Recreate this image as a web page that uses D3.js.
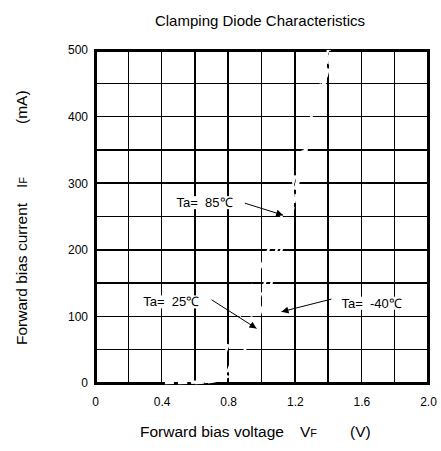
<!DOCTYPE html>
<html lang="en">
<head>
<meta charset="UTF-8">
<title>Clamping Diode Characteristics</title>
<script src="https://d3js.org/d3.v7.min.js"></script>
<style>
  body { margin: 0; background: #fff; }
  svg text { font-family: "Liberation Sans", Arial, sans-serif; fill: #000; }
</style>
</head>
<body>
<svg id="chart" width="441" height="451"></svg>
<script>
// data (forward voltage V, forward current mA)
var xTicks = [0, 0.4, 0.8, 1.2, 1.6, 2.0];
var yTicks = [0, 100, 200, 300, 400, 500];
var xGrid = [0.2, 0.4, 0.6, 0.8, 1.0, 1.2, 1.4, 1.6, 1.8];
var yGrid = [50, 100, 150, 200, 250, 300, 350, 400, 450];

var curve85 = [[0.42, 0], [0.55, 1], [0.65, 3], [0.72, 8], [0.76, 25], [0.79, 50], [0.84, 80], [0.90, 120],
    [0.97, 160], [1.05, 205], [1.12, 250], [1.19, 300], [1.25, 350], [1.30, 400], [1.35, 450], [1.40, 500]];
var curve25 = [[0.50, 0], [0.62, 1], [0.72, 4], [0.79, 15], [0.84, 45], [0.90, 75], [0.96, 110], [1.02, 150],
    [1.09, 200], [1.15, 250], [1.21, 300], [1.26, 350], [1.31, 400], [1.37, 450], [1.41, 500]];
var curve40 = [[0.60, 0], [0.70, 2], [0.80, 10], [0.86, 30], [0.90, 50], [0.97, 90], [1.00, 110], [1.06, 150],
    [1.12, 200], [1.18, 250], [1.22, 300], [1.27, 350], [1.32, 400], [1.38, 450], [1.42, 490]];

var labels = ["Ta=  85\u2103", "Ta=  25\u2103", "Ta=  -40\u2103"];
// label anchor (V, mA) and arrow target (V, mA)
var labelPos = [[0.49, 264], [0.29, 115], [1.48, 113]];
var arrowFrom = [[0.90, 270], [0.70, 125], [1.42, 126]];
var arrowTo = [[1.13, 252], [0.97, 82], [1.12, 107]];

var svg = d3.select("#chart");
var x = d3.scaleLinear().domain([0, 2.0]).range([95, 428]);
var y = d3.scaleLinear().domain([0, 500]).range([383, 50]);

// grid
var grid = svg.append("g").attr("shape-rendering", "crispEdges");
grid.selectAll(".vg").data(xGrid).enter().append("line")
    .attr("x1", function(d){ return x(d); }).attr("x2", function(d){ return x(d); })
    .attr("y1", y(0)).attr("y2", y(500))
    .attr("stroke", "#000").attr("stroke-width", 1.5);
grid.selectAll(".hg").data(yGrid).enter().append("line")
    .attr("y1", function(d){ return y(d); }).attr("y2", function(d){ return y(d); })
    .attr("x1", x(0)).attr("x2", x(2))
    .attr("stroke", "#000").attr("stroke-width", 1.5);
grid.append("rect")
    .attr("x", x(0)).attr("y", y(500))
    .attr("width", x(2) - x(0)).attr("height", y(0) - y(500))
    .attr("fill", "none").attr("stroke", "#000").attr("stroke-width", 3);

// curves (white dashed, only visible across grid lines)
var line = d3.line()
    .x(function(d){ return x(d[0]); })
    .y(function(d){ return y(d[1]); })
    .curve(d3.curveMonotoneX);
[curve85, curve25, curve40].forEach(function(c){
    svg.append("path").datum(c)
        .attr("d", line)
        .attr("fill", "none")
        .attr("stroke", "#fff")
        .attr("stroke-width", 2.5)
        .attr("stroke-dasharray", "9,4");
});

// axes tick labels
var xAxis = d3.axisBottom(x).tickValues(xTicks).tickSize(0).tickPadding(14)
    .tickFormat(function(d){ return d === 0 ? "0" : d3.format(".1f")(d); });
var gx = svg.append("g").attr("transform", "translate(0," + y(0) + ")").call(xAxis);
gx.select(".domain").remove();
gx.selectAll("text").attr("font-size", 12).attr("font-family", "Liberation Sans, Arial, sans-serif");

var yAxis = d3.axisLeft(y).tickValues(yTicks).tickSize(0).tickPadding(7);
var gy = svg.append("g").attr("transform", "translate(" + x(0) + ",0)").call(yAxis);
gy.select(".domain").remove();
gy.selectAll("text").attr("font-size", 12).attr("font-family", "Liberation Sans, Arial, sans-serif");

// annotations
var defs = svg.append("defs");
defs.append("marker").attr("id", "arr")
    .attr("viewBox", "0 0 10 10").attr("refX", 10).attr("refY", 5)
    .attr("markerWidth", 10).attr("markerHeight", 7).attr("orient", "auto")
    .attr("markerUnits", "userSpaceOnUse")
    .append("path").attr("d", "M0,0 L10,5 L0,10 z").attr("fill", "#000");

labels.forEach(function(t, i){
    var g = svg.append("g");
    var txt = g.append("text")
        .attr("x", x(labelPos[i][0])).attr("y", y(labelPos[i][1]))
        .attr("font-size", 13)
        .attr("xml:space", "preserve")
        .text(t);
    var bb = txt.node().getBBox();
    g.insert("rect", "text")
        .attr("x", bb.x - 1).attr("y", bb.y + 1)
        .attr("width", bb.width + 2).attr("height", bb.height - 2)
        .attr("fill", "#fff");
    svg.append("line")
        .attr("x1", x(arrowFrom[i][0])).attr("y1", y(arrowFrom[i][1]))
        .attr("x2", x(arrowTo[i][0])).attr("y2", y(arrowTo[i][1]))
        .attr("stroke", "#000").attr("stroke-width", 1)
        .attr("marker-end", "url(#arr)");
});

// titles
svg.append("text")
    .attr("x", 260).attr("y", 26)
    .attr("text-anchor", "middle").attr("font-size", 15)
    .text("Clamping Diode Characteristics");

var xl = svg.append("text").attr("y", 437).attr("font-size", 15.5);
xl.append("tspan").attr("x", 140).text("Forward bias voltage");
xl.append("tspan").attr("x", 300).text("V");
xl.append("tspan").attr("font-size", 11).text("F");
xl.append("tspan").attr("x", 350).text("(V)");

var yl = svg.append("text")
    .attr("transform", "rotate(-90)")
    .attr("y", 27).attr("font-size", 15.5);
yl.append("tspan").attr("x", -345).text("Forward bias current");
yl.append("tspan").attr("x", -188).text("I");
yl.append("tspan").attr("font-size", 11).text("F");
yl.append("tspan").attr("x", -124).text("(mA)");
</script>
</body>
</html>
